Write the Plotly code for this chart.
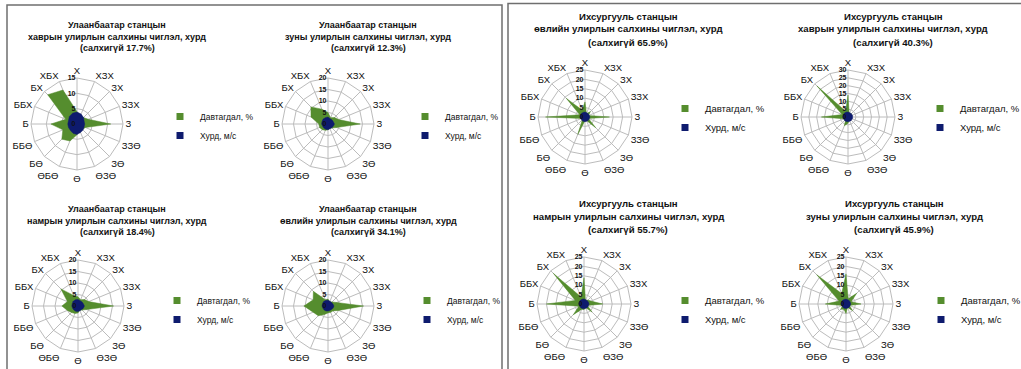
import plotly.graph_objects as go

W, H = 1021, 369

directions = ["Х", "ХЗХ", "ЗХ", "ЗЗХ", "З", "ЗЗӨ", "ЗӨ", "ӨЗӨ",
              "Ө", "ӨБӨ", "БӨ", "ББӨ", "Б", "ББХ", "БХ", "ХБХ"]

series_names = ["Давтагдал, %", "Хурд, м/с"]

# --- Ulaanbaatar station ---
ub_spring_freq = [4, 3, 3, 4, 11, 3, 2.5, 2, 3.5, 6, 7, 5, 8.5, 4, 13.5, 12]
ub_spring_speed = [3.9, 3.5, 3, 2.5, 2.5, 2.5, 2.8, 3, 3.4, 3.3, 3, 3, 3, 3, 3.5, 3.8]
ub_summer_freq = [5, 3, 4, 5, 14, 4, 2.5, 2, 2.5, 3, 3.5, 4, 4, 8, 10.5, 7]
ub_summer_speed = [3, 2.5, 2.5, 2.5, 2.8, 2.5, 2.3, 2.2, 2.5, 2.5, 2.5, 2.5, 2.8, 2.8, 3, 3]
ub_autumn_freq = [4, 3, 4, 5, 15.5, 4, 2.5, 2, 3, 3.5, 4, 5, 7, 5, 10.5, 5]
ub_autumn_speed = [2.8, 2.5, 2.5, 2.5, 2.8, 2.5, 2.2, 2.2, 2.4, 2.5, 2.5, 2.5, 2.7, 2.7, 2.9, 2.9]
ub_winter_freq = [3, 2, 2.5, 4, 15.5, 5, 3, 3, 3, 4, 6, 7, 10.5, 7, 9, 3]
ub_winter_speed = [2.5, 2.2, 2.2, 2.3, 2.6, 2.4, 2.1, 2.1, 2.2, 2.3, 2.4, 2.4, 2.6, 2.6, 2.7, 2.6]

# --- Ikhsuurgal station ---
ik_winter_freq = [8, 2, 4, 2, 13, 2, 8, 2, 2, 10, 2, 2, 21, 3, 14, 4]
ik_winter_speed = [2.6, 2.4, 2.4, 2.4, 2.6, 2.4, 2.5, 2.4, 2.5, 2.5, 2.4, 2.4, 2.7, 2.5, 2.7, 2.6]
ik_spring_freq = [14, 2, 3, 2, 2, 2, 2, 2, 4, 6, 2, 3, 17, 4, 28, 4]
ik_spring_speed = [3.2, 3, 3, 3, 3, 3, 3, 3, 3, 3.1, 3.1, 3.1, 3.3, 3.3, 3.4, 3.3]
ik_autumn_freq = [14, 2, 3, 4, 10, 2, 6, 2, 3, 3, 8, 3, 20, 5, 23, 4]
ik_autumn_speed = [2.7, 2.5, 2.5, 2.5, 2.7, 2.5, 2.6, 2.5, 2.5, 2.6, 2.6, 2.6, 2.8, 2.7, 2.8, 2.7]
ik_summer_freq = [16, 3, 8, 3, 8, 2, 5, 2, 5, 3, 4, 2, 11, 4, 22, 6]
ik_summer_speed = [2.6, 2.4, 2.5, 2.4, 2.5, 2.3, 2.4, 2.3, 2.4, 2.4, 2.4, 2.4, 2.6, 2.5, 2.7, 2.6]

titles = [
    ["Улаанбаатар станцын", "хаврын улирлын салхины чиглэл, хурд", "(салхигүй 17.7%)"],
    ["Улаанбаатар станцын", "зуны улирлын салхины чиглэл, хурд", "(салхигүй 12.3%)"],
    ["Улаанбаатар станцын", "намрын улирлын салхины чиглэл, хурд", "(салхигүй 18.4%)"],
    ["Улаанбаатар станцын", "өвлийн улирлын салхины чиглэл, хурд", "(салхигүй 34.1%)"],
    ["Ихсургууль станцын", "өвлийн улирлын салхины чиглэл, хурд", "(салхигүй 65.9%)"],
    ["Ихсургууль станцын", "хаврын улирлын салхины чиглэл, хурд", "(салхигүй 40.3%)"],
    ["Ихсургууль станцын", "намрын улирлын салхины чиглэл, хурд", "(салхигүй 55.7%)"],
    ["Ихсургууль станцын", "зуны улирлын салхины чиглэл, хурд", "(салхигүй 45.9%)"],
]
radial_max = [15, 20, 20, 20, 25, 30, 25, 25]
freqs = [ub_spring_freq, ub_summer_freq, ub_autumn_freq, ub_winter_freq,
         ik_winter_freq, ik_spring_freq, ik_autumn_freq, ik_summer_freq]
speeds = [ub_spring_speed, ub_summer_speed, ub_autumn_speed, ub_winter_speed,
          ik_winter_speed, ik_spring_speed, ik_autumn_speed, ik_summer_speed]

# layout (pixels): chart centre, radius, title centre x, title line ys, legend pos, font sizes
layout_px = [
    dict(cx=77, cy=124, R=46, tx=117, ty=[25, 36.5, 48], lx=160, ly=102, tf=9, lf=8.5),
    dict(cx=328, cy=124, R=46, tx=368, ty=[25, 36.5, 48], lx=405, ly=102, tf=9, lf=8.5),
    dict(cx=78, cy=306, R=46, tx=117, ty=[209, 220.5, 232], lx=157, ly=286, tf=9, lf=8.5),
    dict(cx=328, cy=306, R=46, tx=368, ty=[209, 220.5, 232], lx=407, ly=286, tf=9, lf=8.5),
    dict(cx=585, cy=117, R=47, tx=628, ty=[16, 29, 42.5], lx=665, ly=94, tf=9.6, lf=9.5),
    dict(cx=848, cy=117, R=47, tx=893, ty=[16, 29, 42.5], lx=920, ly=94, tf=9.6, lf=9.5),
    dict(cx=584, cy=304, R=47, tx=628, ty=[203, 216, 229], lx=665, ly=286, tf=9.6, lf=9.5),
    dict(cx=846, cy=304, R=47, tx=894, ty=[203, 216, 229], lx=921, ly=286, tf=9.6, lf=9.5),
]

GREEN = "#558d2e"
NAVY = "#0e1b6e"
GRID = "#bcbcbc"
FONT = "Liberation Sans, Arial, sans-serif"

fig = go.Figure()
annotations = []
layout_upd = {}

for i in range(8):
    pid = "polar" if i == 0 else f"polar{i+1}"
    lid = "legend" if i == 0 else f"legend{i+1}"
    L = layout_px[i]
    theta = directions + [directions[0]]
    fr = freqs[i] + [freqs[i][0]]
    sp = speeds[i] + [speeds[i][0]]
    fig.add_trace(go.Scatterpolar(r=fr, theta=theta, mode="lines", fill="toself",
                                  fillcolor=GREEN, line=dict(color=GREEN, width=0.5),
                                  subplot=pid, showlegend=False, hoverinfo="skip"))
    fig.add_trace(go.Scatterpolar(r=sp, theta=theta, mode="lines", fill="toself",
                                  fillcolor=NAVY, line=dict(color=NAVY, width=0.5),
                                  subplot=pid, showlegend=False, hoverinfo="skip"))
    for name, col in zip(series_names, [GREEN, NAVY]):
        fig.add_trace(go.Scatterpolar(r=[None], theta=[None], mode="markers",
                                      marker=dict(symbol="square", size=7, color=col),
                                      name=name, subplot=pid, legend=lid, showlegend=True))
    layout_upd[pid] = dict(
        domain=dict(x=[(L["cx"] - L["R"]) / W, (L["cx"] + L["R"]) / W],
                    y=[1 - (L["cy"] + L["R"]) / H, 1 - (L["cy"] - L["R"]) / H]),
        bgcolor="white",
        gridshape="linear",
        angularaxis=dict(type="category", categoryarray=directions, direction="clockwise",
                         rotation=90, showline=True, linecolor=GRID, linewidth=1,
                         gridcolor=GRID, ticks="", tickfont=dict(size=9.5, color="#111", family=FONT)),
        radialaxis=dict(range=[0, radial_max[i]], dtick=5, angle=90, tickangle=90,
                        side="counterclockwise", showline=False, gridcolor=GRID, ticks="",
                        tickfont=dict(size=7, color="#111", family=FONT, weight="bold")),
    )
    layout_upd[lid] = dict(x=L["lx"] / W, y=1 - L["ly"] / H, xanchor="left", yanchor="top",
                           bgcolor="rgba(0,0,0,0)", borderwidth=0,
                           font=dict(size=L["lf"], color="#111", family=FONT),
                           itemclick=False, itemdoubleclick=False)
    for line, yy in zip(titles[i], L["ty"]):
        annotations.append(dict(text=line, x=L["tx"] / W, y=1 - yy / H, xref="paper", yref="paper",
                                showarrow=False, xanchor="center", yanchor="middle",
                                font=dict(size=L["tf"], color="#111", family=FONT, weight="bold")))

shapes = [
    dict(type="rect", xref="paper", yref="paper", x0=7 / W, x1=502 / W, y0=1 - 380 / H, y1=1 - 5 / H,
         line=dict(color="#6f6f6f", width=1.5)),
    dict(type="rect", xref="paper", yref="paper", x0=508 / W, x1=1030 / W, y0=1 - 380 / H, y1=1 - 3.5 / H,
         line=dict(color="#6f6f6f", width=1.5)),
]

fig.update_layout(width=W, height=H, margin=dict(l=0, r=0, t=0, b=0, autoexpand=False),
                  paper_bgcolor="white", plot_bgcolor="white",
                  font=dict(family=FONT, color="#111"),
                  annotations=annotations, shapes=shapes, **layout_upd)

fig.write_html("out.html", config={"displayModeBar": False},
               post_script="document.body.style.margin='0px';document.body.style.overflow='hidden';")
